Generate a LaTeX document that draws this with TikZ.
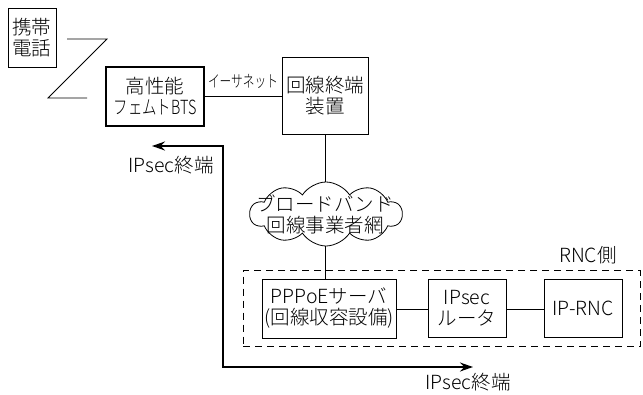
\documentclass[tikz,border=0pt]{standalone}
\usepackage{fontspec}
\setmainfont{Noto Sans CJK JP Light}
\usetikzlibrary{shapes.symbols,arrows.meta}
\begin{document}
\begin{tikzpicture}[x=1pt,y=-1pt,
  txt/.style={font=\fontsize{19.5}{21}\selectfont, align=center, inner sep=0pt},
  box/.style={txt, draw, line width=0.8pt, rectangle},
  conn/.style={line width=0.8pt},
  thickarrow/.style={line width=1.6pt, -{Stealth[length=13pt,width=9pt]}}
]
\useasboundingbox (0,0) rectangle (643,394);
% boxes
\node[box, minimum width=48pt, minimum height=59pt] (phone) at (32,37.5) {携帯\\電話};
\node[box, line width=1.4pt, minimum width=98pt, minimum height=59pt] (bts) at (155,96.5) {高性能\\\scalebox{0.74}[1]{フェムトBTS}};
\node[box, minimum width=86pt, minimum height=77pt] (onu) at (325,95.5) {回線終端\\装置};
\node[txt, draw, line width=0.8pt, shape=cloud, cloud puffs=10, cloud puff arc=115, aspect=2.5, minimum width=152pt, minimum height=64pt] (cloud) at (326,214) {};
\node[txt] (cloudtxt) at (325,214) {ブロードバンド\\回線事業者網};
\node[draw, dashed, line width=0.8pt, dash pattern=on 7pt off 5pt, minimum width=397pt, minimum height=76pt, inner sep=0pt] (rnc) at (441.5,308.5) {};
\node[txt] (rnclabel) at (588,255) {RNC側};
\node[box, minimum width=134pt, minimum height=59pt] (pppoe) at (329,308.5) {PPPoEサーバ\\(回線収容設備)};
\node[box, minimum width=78pt, minimum height=58pt] (ipsec) at (467,308) {IPsec\\ルータ};
\node[box, minimum width=78pt, minimum height=58pt] (iprnc) at (583,308) {IP-RNC};
% labels
\node[txt] (eth) at (243,81) {\scalebox{0.6}[0.85]{イーサネット}};
\node[txt] (lab1) at (171,165) {IPsec終端};
\node[txt] (lab2) at (468,382) {IPsec終端};
% connectors
\draw[conn] (bts.east |- 0,96) -- (onu.west |- 0,96);
\draw[conn] (onu.south) -- (onu.south |- cloud.north);
\draw[conn] (onu.south |- cloud.south) -- (onu.south |- pppoe.north);
\draw[conn] (pppoe.east |- 0,309) -- (ipsec.west |- 0,309);
\draw[conn] (ipsec.east |- 0,309) -- (iprnc.west |- 0,309);
% wireless zigzag
\coordinate (z1) at (67,39);
\coordinate (z2) at (107,39);
\coordinate (z3) at (48,98);
\coordinate (z4) at (87,98);
\draw[conn] (z1) -- (z2) -- (z3) -- (z4);
% IPsec tunnel arrow
\coordinate (a1) at (152,146);
\coordinate (a2) at (223,146);
\coordinate (a3) at (223,367);
\coordinate (a4) at (473,367);
\draw[thickarrow] (a3) -- (a2) -- (a1);
\draw[thickarrow] (a2) -- (a3) -- (a4);
\end{tikzpicture}
\end{document}
